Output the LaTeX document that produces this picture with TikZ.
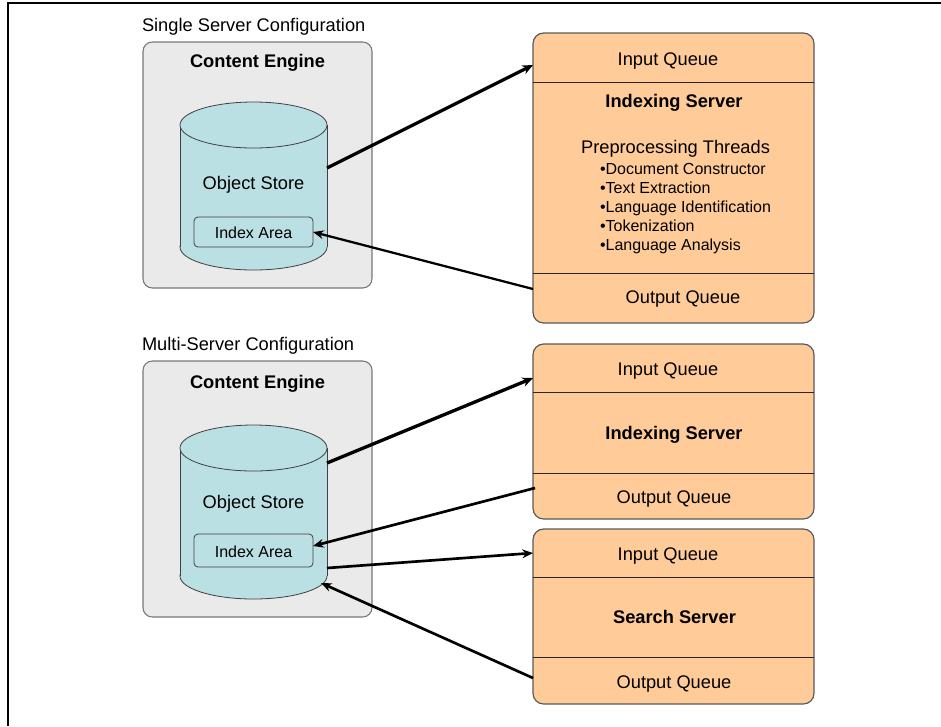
\documentclass[tikz,border=0pt]{standalone}
\usepackage{fontspec}
\setmainfont{Liberation Sans}
\usetikzlibrary{arrows.meta,fit}
\definecolor{cegray}{RGB}{234,234,234}
\definecolor{ceborder}{RGB}{120,120,120}
\definecolor{cyl}{RGB}{187,224,228}
\definecolor{peach}{RGB}{255,204,153}
\definecolor{srvborder}{RGB}{90,90,90}
\begin{document}
\begin{tikzpicture}[x=0.75pt,y=-0.75pt,
  every node/.style={inner sep=0pt, outer sep=0pt},
  lbl/.style={font=\fontsize{13.7}{16}\selectfont, anchor=base},
  blbl/.style={font=\fontsize{13.7}{16}\selectfont\bfseries, anchor=base},
  slbl/.style={font=\fontsize{12}{14}\selectfont, anchor=base west},
  ilbl/.style={font=\fontsize{12}{14}\selectfont, anchor=base},
  engine/.style={draw=ceborder, fill=cegray, line width=0.8pt, rounded corners=7pt},
  server/.style={draw=srvborder, fill=peach, line width=0.9pt, rounded corners=8pt},
  divider/.style={draw=black!85, line width=0.6pt},
  cylline/.style={draw=black!75, line width=0.6pt},
  idxbox/.style={draw=black!75, fill=cyl, line width=0.6pt, rounded corners=3pt},
  bigarrow/.style={line width=2.5pt, -{Stealth[length=8pt,width=7pt]}},
  medarrow/.style={line width=1.7pt, -{Stealth[length=8pt,width=6.5pt]}},
]
\useasboundingbox (0,0) rectangle (941,726);
\draw[line width=1pt] (941,3) -- (8,3) -- (8,726);

% ===== Single server =====
\node[lbl, anchor=base west] (t1) at (142,31) {Single Server Configuration};
\node[engine, fit={(143,42) (372,288)}] (ce1) {};
\node[blbl] (ce1t) at (257.5,67) {Content Engine};
% cylinder 1
\fill[cyl] (253.5,247) ellipse [x radius=55.125pt, y radius=17.25pt];
\draw[cylline] (253.5,247) ellipse [x radius=55.125pt, y radius=17.25pt];
\fill[cyl] (180,125) rectangle (327,247);
\draw[cylline] (180,125) -- (180,247);
\draw[cylline] (327,125) -- (327,247);
\filldraw[cylline, fill=cyl] (253.5,125) ellipse [x radius=55.125pt, y radius=17.25pt];
\node[lbl] (os1) at (253.5,189) {Object Store};
\node[idxbox, fit={(194,217) (313,247)}] (idx1) {};
\node[ilbl] (idx1t) at (253.5,238) {Index Area};
\coordinate (cyl1r) at (327,168);

% server 1
\node[server, fit={(533,33) (814,323)}] (srv1) {};
\draw[divider] (533,82) -- (814,82);
\draw[divider] (533,273) -- (814,273);
\node[lbl] (s1iq) at (668,65) {Input Queue};
\node[blbl] (s1name) at (674,107) {Indexing Server};
\node[lbl] (s1pp) at (675.5,153) {Preprocessing Threads};
\node[slbl] (s1b1) at (600,174) {•Document Constructor};
\node[slbl] (s1b2) at (600,193) {•Text Extraction};
\node[slbl] (s1b3) at (600,212) {•Language Identification};
\node[slbl] (s1b4) at (600,231) {•Tokenization};
\node[slbl] (s1b5) at (600,250) {•Language Analysis};
\node[lbl] (s1oq) at (683,303) {Output Queue};
\coordinate (s1in) at (533,65);
\coordinate (s1out) at (533,289);

\draw[bigarrow] (cyl1r) -- (s1in);
\draw[medarrow] (s1out) -- (idx1.east);

% ===== Multi server =====
\node[lbl, anchor=base west] (t2) at (142,350) {Multi-Server Configuration};
\node[engine, fit={(143,361) (372,617)}] (ce2) {};
\node[blbl] (ce2t) at (257.5,388) {Content Engine};
% cylinder 2
\fill[cyl] (253.5,576) ellipse [x radius=55.125pt, y radius=17.25pt];
\draw[cylline] (253.5,576) ellipse [x radius=55.125pt, y radius=17.25pt];
\fill[cyl] (180,448) rectangle (327,576);
\draw[cylline] (180,448) -- (180,576);
\draw[cylline] (327,448) -- (327,576);
\filldraw[cylline, fill=cyl] (253.5,448) ellipse [x radius=55.125pt, y radius=17.25pt];
\node[lbl] (os2) at (253.5,508) {Object Store};
\node[idxbox, fit={(194,534) (313,567)}] (idx2) {};
\node[ilbl] (idx2t) at (253.5,557) {Index Area};
\coordinate (cyl2a) at (327,463);
\coordinate (cyl2b) at (327,568);
\coordinate (cyl2c) at (321,583);
\coordinate (idx2in) at (313,546);

% indexing server 2
\node[server, fit={(533,344) (814,519)}] (srv2) {};
\draw[divider] (533,392) -- (814,392);
\draw[divider] (533,473) -- (814,473);
\node[lbl] (s2iq) at (668,375) {Input Queue};
\node[blbl] (s2name) at (674,439) {Indexing Server};
\node[lbl] (s2oq) at (674,503) {Output Queue};
\coordinate (s2in) at (533,378);
\coordinate (s2out) at (535,488);

% search server
\node[server, fit={(533,529) (814,704)}] (srv3) {};
\draw[divider] (533,577) -- (814,577);
\draw[divider] (533,657) -- (814,657);
\node[lbl] (s3iq) at (668,560) {Input Queue};
\node[blbl] (s3name) at (674.5,623) {Search Server};
\node[lbl] (s3oq) at (674,688) {Output Queue};
\coordinate (s3in) at (533,553);
\coordinate (s3out) at (533,678);

\draw[bigarrow] (cyl2a) -- (s2in);
\draw[medarrow, line width=2pt] (s2out) -- (idx2in);
\draw[medarrow, line width=2pt] (cyl2b) -- (s3in);
\draw[medarrow, line width=2pt] (s3out) -- (cyl2c);
\end{tikzpicture}
\end{document}
